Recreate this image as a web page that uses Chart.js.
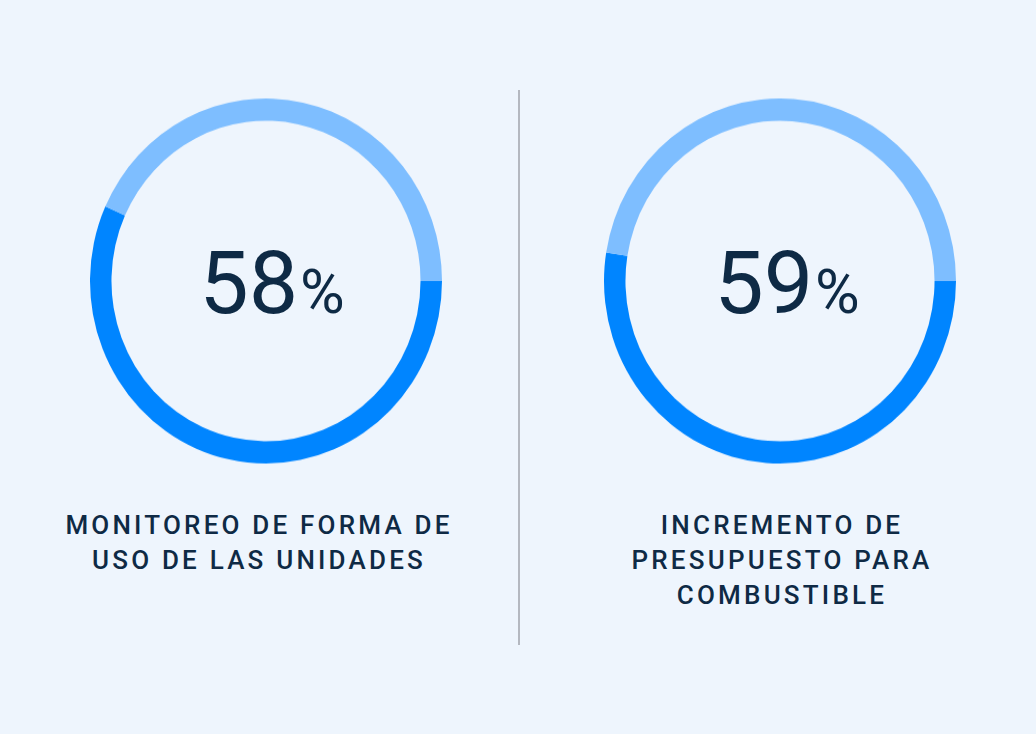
<!DOCTYPE html>
<html lang="es">
<head>
<meta charset="utf-8">
<script src="https://cdn.jsdelivr.net/npm/chart.js@4"></script>
<style>
  html, body { margin: 0; padding: 0; }
  body {
    width: 1036px; height: 734px; position: relative; overflow: hidden;
    background: #eef5fd; font-family: Roboto, "Noto Sans", sans-serif; color: #0e2a45;
  }
  .anillo { position: absolute; top: 105px; width: 352px; height: 352px; transform: scaleY(1.037); }
  .valor {
    position: absolute; top: 239px; width: 300px; text-align: center;
    font-size: 88px; line-height: 88px; font-weight: 400;
  }
  .valor span { font-size: 61px; margin-left: 2px; }
  .etiqueta {
    position: absolute; top: 508px; width: 420px; text-align: center;
    font-size: 26px; line-height: 35px; font-weight: 500; letter-spacing: 3.2px;
  }
  .divisor { position: absolute; left: 518px; top: 90px; width: 2px; height: 555px; background: #b4b8c0; }
</style>
</head>
<body>
<div class="anillo" style="left:90px"><canvas id="anillo1"></canvas></div>
<div class="anillo" style="left:604px"><canvas id="anillo2"></canvas></div>
<div class="valor" id="valor1" style="left:122px"></div>
<div class="valor" id="valor2" style="left:637px"></div>
<div class="etiqueta" id="etiqueta1" style="left:49px"></div>
<div class="etiqueta" id="etiqueta2" style="left:572px"></div>
<div class="divisor"></div>
<script>
const indicadores = ["MONITOREO DE FORMA DE|USO DE LAS UNIDADES", "INCREMENTO DE|PRESUPUESTO PARA|COMBUSTIBLE"];
const porcentajes = [58, 59];
// avance que dibuja cada anillo
const avanceAnillo = [56.7, 52.5];
const colores = ["rgb(0, 133, 255)", "rgb(126, 190, 255)"];

function renderizarAnillo(id, valor) {
  const ctx = document.getElementById(id).getContext("2d");
  return new Chart(ctx, {
    type: "doughnut",
    data: {
      labels: ["Logrado", "Restante"],
      datasets: [
        {
          data: [valor, 100 - valor],
          backgroundColor: colores,
          borderWidth: 0,
        },
      ],
    },
    options: {
      responsive: true,
      maintainAspectRatio: false,
      animation: false,
      rotation: 90,
      cutout: "87.8%",
      layout: { padding: 0 },
      plugins: { legend: { display: false }, tooltip: { enabled: false } },
    },
  });
}

porcentajes.forEach((p, i) => {
  renderizarAnillo("anillo" + (i + 1), avanceAnillo[i]);
  document.getElementById("valor" + (i + 1)).innerHTML = p + "<span>%</span>";
  document.getElementById("etiqueta" + (i + 1)).innerHTML = indicadores[i].split("|").join("<br>");
});
</script>
</body>
</html>
